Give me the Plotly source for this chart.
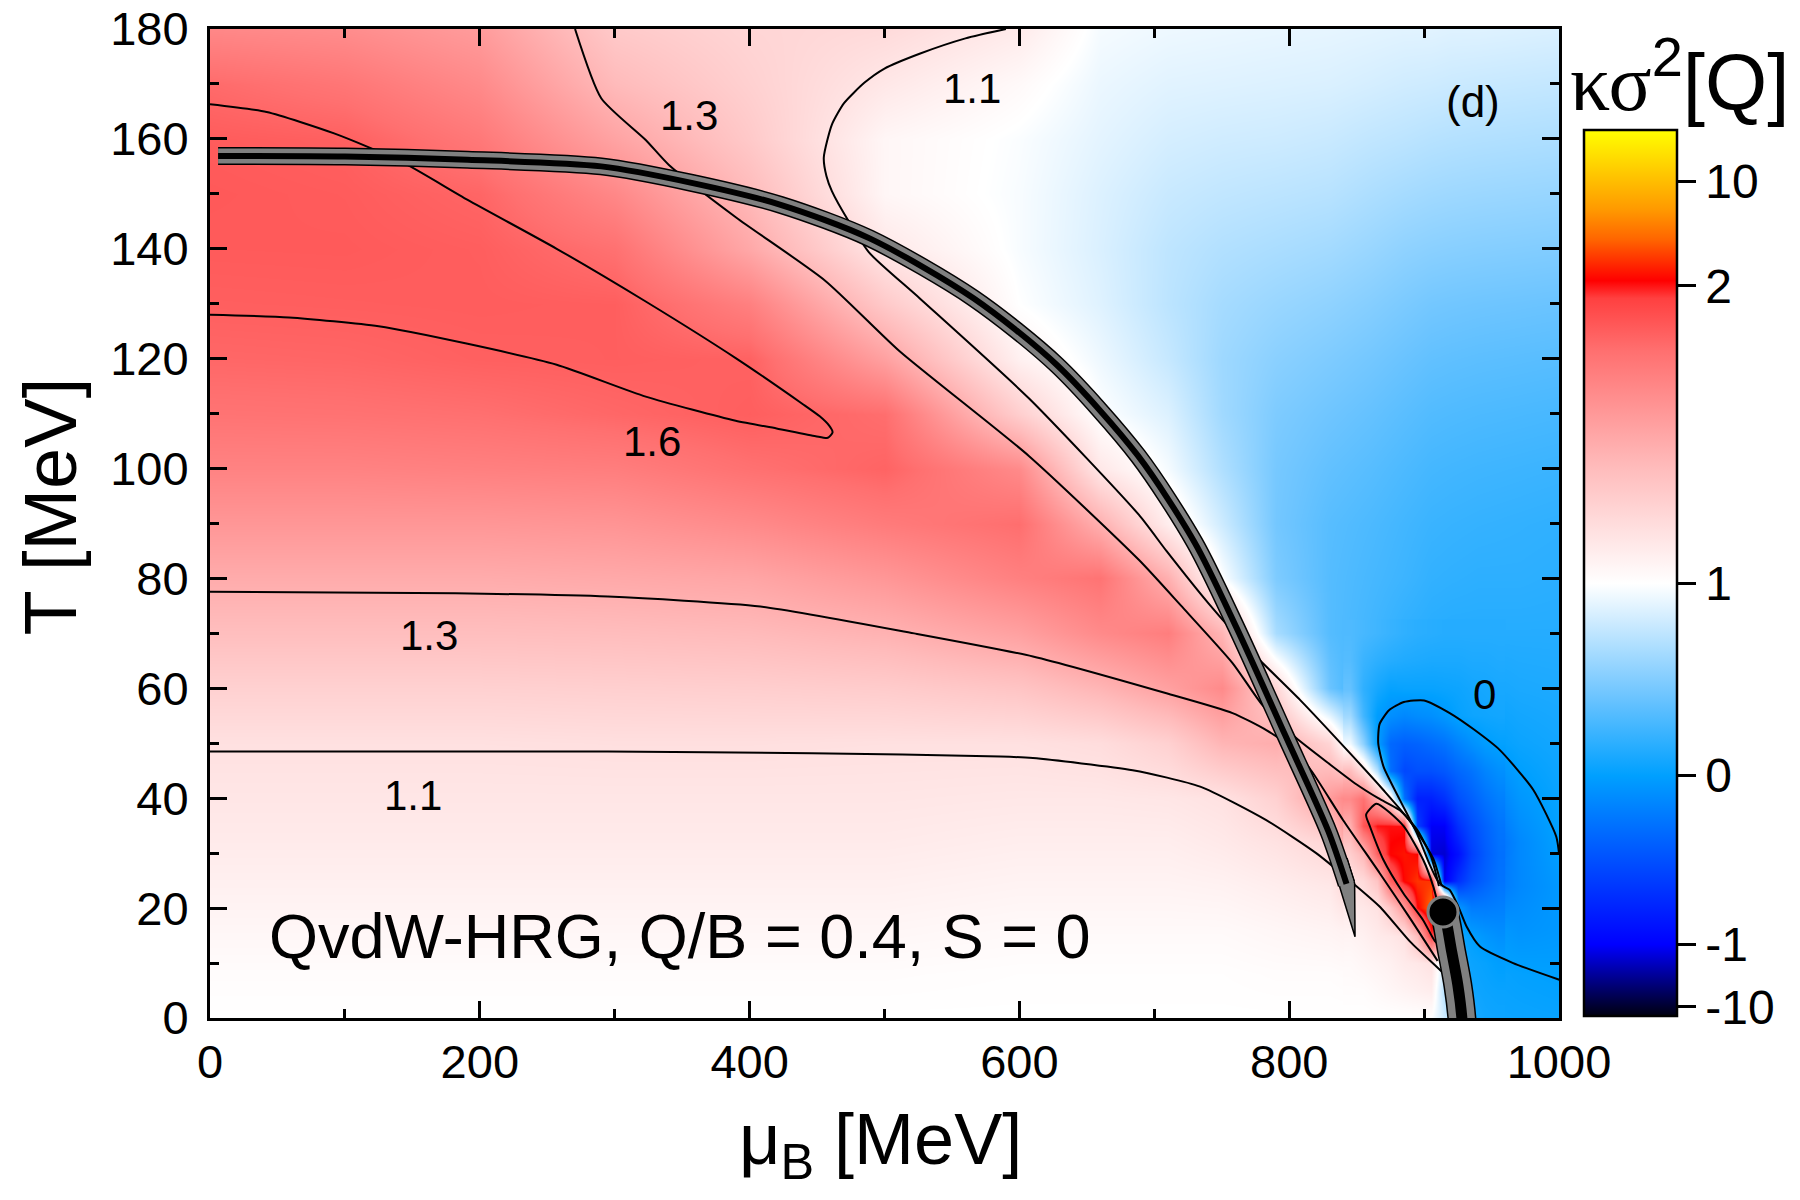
import numpy as np
import plotly.graph_objects as go

# ---------------- data ----------------
mu_grid = [0, 100, 200, 300, 400, 500, 600, 660, 710, 750, 790, 830, 860, 885, 905, 920, 940, 970, 1000]
T_grid = [0, 8, 16, 24, 32, 40, 50, 60, 70, 80, 90, 100, 110, 120, 130, 140, 150, 160, 170, 180]

# kappa*sigma^2[Q] estimated at each grid column (values from T=0 upward)
ks_mu0 = [1.00, 1.01, 1.03, 1.05, 1.07, 1.085, 1.105, 1.17, 1.245, 1.315, 1.40, 1.48, 1.54, 1.58, 1.61, 1.65, 1.665, 1.64, 1.57, 1.46]
ks_mu100 = [1.00, 1.01, 1.03, 1.05, 1.07, 1.085, 1.105, 1.17, 1.245, 1.315, 1.40, 1.48, 1.545, 1.585, 1.62, 1.655, 1.64, 1.60, 1.53, 1.44]
ks_mu200 = [1.00, 1.01, 1.03, 1.05, 1.07, 1.085, 1.105, 1.17, 1.245, 1.315, 1.40, 1.49, 1.555, 1.60, 1.63, 1.62, 1.585, 1.52, 1.45, 1.38]
ks_mu300 = [1.00, 1.01, 1.03, 1.05, 1.07, 1.085, 1.11, 1.175, 1.25, 1.325, 1.41, 1.50, 1.58, 1.615, 1.615, 1.55, 1.46, 1.35, 1.26, 1.20]
ks_mu400 = [1.00, 1.01, 1.03, 1.05, 1.07, 1.085, 1.11, 1.18, 1.26, 1.34, 1.45, 1.55, 1.615, 1.595, 1.49, 1.33, 1.26, 1.20, 1.17, 1.15]
ks_mu500 = [1.00, 1.01, 1.03, 1.05, 1.07, 1.085, 1.105, 1.19, 1.29, 1.40, 1.51, 1.59, 1.56, 1.36, 1.20, 1.08, 1.03, 1.03, 1.08, 1.13]
ks_mu600 = [1.00, 1.005, 1.02, 1.04, 1.06, 1.08, 1.105, 1.22, 1.36, 1.49, 1.56, 1.45, 1.18, 1.05, 1.00, 0.97, 0.97, 0.98, 1.02, 1.07]
ks_mu660 = [1.00, 1.005, 1.02, 1.04, 1.06, 1.08, 1.12, 1.28, 1.45, 1.54, 1.30, 1.08, 1.00, 0.93, 0.87, 0.85, 0.86, 0.89, 0.92, 0.96]
ks_mu710 = [1.00, 1.005, 1.02, 1.04, 1.06, 1.085, 1.17, 1.36, 1.50, 1.30, 1.06, 0.96, 0.86, 0.77, 0.73, 0.74, 0.78, 0.83, 0.88, 0.93]
ks_mu750 = [1.00, 1.005, 1.02, 1.045, 1.075, 1.10, 1.28, 1.45, 1.28, 1.00, 0.80, 0.68, 0.62, 0.61, 0.64, 0.69, 0.75, 0.81, 0.87, 0.92]
ks_mu790 = [1.00, 1.01, 1.03, 1.06, 1.10, 1.17, 1.31, 1.15, 0.65, 0.48, 0.44, 0.45, 0.48, 0.53, 0.59, 0.66, 0.73, 0.80, 0.86, 0.91]
ks_mu830 = [1.00, 1.01, 1.04, 1.08, 1.15, 1.38, 1.15, 0.40, 0.32, 0.32, 0.33, 0.37, 0.42, 0.48, 0.55, 0.63, 0.71, 0.78, 0.85, 0.90]
ks_mu860 = [1.00, 1.02, 1.06, 1.25, 1.90, 1.60, 0.35, 0.12, 0.25, 0.27, 0.29, 0.33, 0.38, 0.44, 0.51, 0.59, 0.67, 0.75, 0.83, 0.89]
ks_mu885 = [1.00, 1.05, 1.25, 2.00, 3.00, -0.10, -0.40, 0.05, 0.18, 0.23, 0.25, 0.29, 0.34, 0.40, 0.47, 0.55, 0.64, 0.73, 0.81, 0.88]
ks_mu905 = [1.00, 1.05, 1.80, 8.00, -3.00, -0.80, -0.35, 0.02, 0.15, 0.19, 0.22, 0.26, 0.31, 0.37, 0.44, 0.53, 0.62, 0.71, 0.80, 0.88]
ks_mu920 = [0.70, 0.60, 0.30, -0.30, -1.50, -0.60, -0.25, 0.03, 0.14, 0.18, 0.21, 0.25, 0.30, 0.36, 0.43, 0.52, 0.61, 0.70, 0.79, 0.87]
ks_mu940 = [0.05, 0.04, -0.01, -0.35, -0.45, -0.30, -0.03, 0.07, 0.14, 0.17, 0.20, 0.24, 0.29, 0.35, 0.42, 0.51, 0.60, 0.69, 0.78, 0.87]
ks_mu970 = [0.04, 0.01, -0.08, -0.15, -0.15, -0.06, 0.04, 0.10, 0.14, 0.17, 0.19, 0.23, 0.28, 0.34, 0.41, 0.50, 0.59, 0.68, 0.77, 0.86]
ks_mu1000 = [0.03, -0.005, -0.05, -0.05, 0.003, 0.03, 0.07, 0.11, 0.14, 0.16, 0.18, 0.22, 0.27, 0.33, 0.40, 0.49, 0.58, 0.67, 0.76, 0.85]

ks_columns = [ks_mu0, ks_mu100, ks_mu200, ks_mu300, ks_mu400, ks_mu500, ks_mu600, ks_mu660,
              ks_mu710, ks_mu750, ks_mu790, ks_mu830, ks_mu860, ks_mu885, ks_mu905, ks_mu920,
              ks_mu940, ks_mu970, ks_mu1000]

# finer reading around the critical point
cp_mu_grid = [845, 855, 865, 875, 885, 895, 905, 915, 925, 935, 945, 955]
cp_T_grid = [0, 5, 10, 15, 20, 25, 30, 35, 40, 45, 50, 55, 60, 65, 70]
cp_ks_845 = [1.00, 1.01, 1.02, 1.04, 1.07, 1.10, 1.18, 1.30, 1.45, 1.25, 0.95, 0.62, 0.38, 0.32, 0.30]
cp_ks_855 = [1.00, 1.01, 1.03, 1.05, 1.08, 1.13, 1.27, 1.70, 1.55, 1.10, 0.55, 0.25, 0.18, 0.22, 0.27]
cp_ks_865 = [1.00, 1.02, 1.04, 1.07, 1.10, 1.22, 1.60, 2.05, 1.30, 0.70, 0.00, -0.02, 0.08, 0.17, 0.24]
cp_ks_875 = [1.00, 1.03, 1.05, 1.08, 1.20, 1.60, 2.50, 2.10, 1.10, -0.30, -0.35, -0.10, 0.02, 0.14, 0.21]
cp_ks_885 = [1.00, 1.04, 1.07, 1.10, 1.40, 2.60, 3.00, 2.00, -0.30, -0.55, -0.40, -0.15, 0.03, 0.12, 0.18]
cp_ks_895 = [1.00, 1.05, 1.08, 1.25, 2.20, 4.00, 2.50, -0.60, -0.80, -0.50, -0.38, -0.12, 0.03, 0.11, 0.16]
cp_ks_905 = [1.00, 1.06, 1.10, 1.90, 6.00, 4.00, -2.50, -1.30, -0.80, -0.50, -0.33, -0.10, 0.03, 0.10, 0.15]
cp_ks_915 = [0.80, 0.70, 0.80, 1.50, 10.0, -2.00, -3.00, -1.20, -0.70, -0.45, -0.28, -0.05, 0.04, 0.10, 0.14]
cp_ks_925 = [0.50, 0.30, 0.10, 0.05, -0.05, -0.70, -0.90, -0.70, -0.50, -0.35, -0.18, 0.02, 0.05, 0.10, 0.14]
cp_ks_935 = [0.10, 0.06, 0.04, 0.00, -0.22, -0.50, -0.60, -0.52, -0.40, -0.28, -0.10, 0.05, 0.07, 0.11, 0.14]
cp_ks_945 = [0.06, 0.04, 0.02, -0.06, -0.22, -0.38, -0.42, -0.38, -0.28, -0.17, -0.02, 0.06, 0.08, 0.11, 0.14]
cp_ks_955 = [0.05, 0.03, -0.01, -0.10, -0.20, -0.28, -0.30, -0.27, -0.20, -0.10, 0.01, 0.07, 0.09, 0.12, 0.14]
cp_columns = [cp_ks_845, cp_ks_855, cp_ks_865, cp_ks_875, cp_ks_885, cp_ks_895, cp_ks_905,
              cp_ks_915, cp_ks_925, cp_ks_935, cp_ks_945, cp_ks_955]

# non-linear colour axis: value -> position on the colour bar
scale_values = [-12, -10, -1, 0, 1, 1.1, 1.3, 1.6, 2, 10, 13]
scale_positions = [0.0, 0.0103, 0.0806, 0.2714, 0.4881, 0.545, 0.64, 0.77, 0.8243, 0.9423, 1.0]
cbar_tick_values = [-10, -1, 0, 1, 2, 10]
cbar_tick_text = ["-10", "-1", "0", "1", "2", "10"]

# contour lines (mu_B, T)
c16_mu = [0, 42, 92, 141.6, 191, 257, 323, 389.7, 439, 452, 459, 461.5, 458, 449, 420, 389.7, 323, 257, 191, 125, 58.6, 0]
c16_T = [166.3, 164.9, 161, 155.9, 148.9, 140, 130.4, 120.1, 111.8, 109.5, 107.8, 106.6, 105.6, 105.9, 107.3, 108.7, 113.1, 118.9, 122.7, 125.9, 127.5, 128]

c13u_mu = [270.6, 290, 323, 340, 390, 456, 511, 607, 688.5, 720, 758, 780, 805, 830, 850, 866, 882, 895, 905, 911]
c13u_T = [180, 167.4, 159.8, 155.3, 145.7, 134.2, 121.4, 102.3, 83.4, 75, 64.6, 57, 51, 46.2, 42.5, 40, 37.8, 34.2, 29.5, 24]

c11u_mu = [590, 560, 526, 500, 485, 470, 461, 455, 457, 461, 473, 489, 526, 607, 688.5, 709, 740, 773.5, 808, 845, 869.8, 889.6, 906.8, 913]
c11u_T = [180, 178.3, 175.5, 172.8, 170.2, 166.5, 162.6, 156.6, 153.2, 150.5, 145.2, 139.2, 131, 112.8, 91.6, 85, 75.5, 66.3, 57.9, 48.2, 41.5, 35.8, 29, 24]

c13l_mu = [0, 182, 295, 408, 522, 610, 709, 758, 783, 800, 815, 840, 867, 890, 910]
c13l_T = [77.6, 77.3, 76.7, 74.9, 70, 65.8, 59.1, 55.5, 52.4, 49.5, 45.5, 36, 26.4, 18, 10.4]

c11l_mu = [0, 295, 446, 586, 610, 684, 734, 783, 820, 845, 867, 890, 914, 920]
c11l_T = [48.5, 48.5, 48.2, 47.6, 47.3, 45.1, 42.1, 36, 30, 25, 20.3, 13.8, 8.2, 6.5]

c2_mu = [912, 906.7, 899.3, 884.5, 864.7, 857, 859.8, 869.8, 884.6, 899.3, 908, 913]
c2_T = [19, 24, 28.8, 35, 39, 37, 34.9, 28.8, 22.7, 17.8, 14, 13]

c0_mu = [1000, 998, 981, 956, 937, 919, 900, 885, 874, 867, 866, 870, 882, 894.5, 904, 910, 914, 919, 925, 931.6, 941.4, 966, 1001]
c0_T = [30, 33, 41.5, 48.8, 52.5, 55.5, 57.8, 57.5, 56, 53.5, 50, 45.7, 39.7, 33.7, 28, 25, 24, 23.3, 20.5, 16.6, 13, 10, 6.9]

# phase-transition band
band_mu = [6, 100, 191, 290, 357, 423, 489, 566, 628, 688, 730, 761, 797, 829, 842.5]
band_T = [156.9, 156.8, 156.2, 155, 152, 148, 141.9, 131, 118.8, 102.3, 86.5, 71, 51.5, 34, 24.4]
spike_mu = [831, 848.8, 848.5, 843, 831]
spike_T = [29, 14.8, 24.5, 29, 29]
low_band_mu = [914, 915, 920.5, 925, 928, 928.6]
low_band_T = [19.3, 19, 12, 6, 0, -3]
cp_mu = [914]
cp_T = [19.3]

# labels
label_text = ["1.3", "1.1", "1.6", "1.3", "1.1", "0"]
label_mu = [355, 565, 328, 162.6, 150.6, 944.7]
label_T = [164.3, 169.1, 105, 69.7, 40.5, 58.9]

FONT = "Liberation Sans"

z_pos = np.interp(np.array(ks_columns).T, scale_values, scale_positions)
z_cp = np.interp(np.array(cp_columns).T, scale_values, scale_positions)
cbar_tick_pos = list(np.interp(cbar_tick_values, scale_values, scale_positions))

colorscale = [
    [0.0, "#000010"], [0.0806, "#0000ff"], [0.2714, "#00a0ff"], [0.36, "#6cc4ff"],
    [0.4881, "#ffffff"], [0.62, "#ffbbbb"], [0.75, "#ff7070"], [0.81, "#ff4040"],
    [0.83, "#ff0000"], [0.877, "#ff6600"], [0.91, "#ff9900"], [1.0, "#ffff00"],
]

fig = go.Figure()
fig.add_trace(go.Heatmap(
    x=mu_grid, y=T_grid, z=z_pos, zmin=0, zmax=1, zsmooth="best",
    colorscale=colorscale, hoverinfo="skip",
    colorbar=dict(
        x=1.0185, xanchor="left", xpad=0, y=0.002, yanchor="bottom", ypad=0,
        len=886, lenmode="pixels", thickness=93, thicknessmode="pixels",
        outlinewidth=2.5, outlinecolor="black",
        tickvals=cbar_tick_pos, ticktext=cbar_tick_text,
        ticks="outside", ticklen=18, tickwidth=2.5, tickcolor="black",
        tickfont=dict(size=48, family=FONT, color="black"),
    ),
))
fig.add_trace(go.Heatmap(
    x=cp_mu_grid, y=cp_T_grid, z=z_cp, zmin=0, zmax=1, zsmooth="best",
    colorscale=colorscale, showscale=False, hoverinfo="skip",
))

line_style = dict(color="black", width=2, shape="spline", smoothing=0.6)
for xs, ys in [(c16_mu, c16_T), (c13u_mu, c13u_T), (c11u_mu, c11u_T), (c13l_mu, c13l_T),
               (c11l_mu, c11l_T), (c2_mu, c2_T), (c0_mu, c0_T)]:
    fig.add_trace(go.Scatter(x=xs, y=ys, mode="lines", line=line_style, hoverinfo="skip", showlegend=False))

# band: black edge, gray body, black centre
fig.add_trace(go.Scatter(x=band_mu, y=band_T, mode="lines", line=dict(color="black", width=18, shape="spline", smoothing=0.8), showlegend=False, hoverinfo="skip"))
fig.add_trace(go.Scatter(x=spike_mu, y=spike_T, mode="lines", fill="toself", fillcolor="#808080", line=dict(color="black", width=1.5), showlegend=False, hoverinfo="skip"))
fig.add_trace(go.Scatter(x=band_mu, y=band_T, mode="lines", line=dict(color="#808080", width=15, shape="spline", smoothing=0.8), showlegend=False, hoverinfo="skip"))
fig.add_trace(go.Scatter(x=band_mu, y=band_T, mode="lines", line=dict(color="black", width=6, shape="spline", smoothing=0.8), showlegend=False, hoverinfo="skip"))

fig.add_trace(go.Scatter(x=low_band_mu, y=low_band_T, mode="lines", line=dict(color="black", width=29, shape="spline"), showlegend=False, hoverinfo="skip"))
fig.add_trace(go.Scatter(x=low_band_mu, y=low_band_T, mode="lines", line=dict(color="#808080", width=26, shape="spline"), showlegend=False, hoverinfo="skip"))
fig.add_trace(go.Scatter(x=low_band_mu, y=low_band_T, mode="lines", line=dict(color="black", width=11, shape="spline"), showlegend=False, hoverinfo="skip"))
fig.add_trace(go.Scatter(x=cp_mu, y=cp_T, mode="markers", marker=dict(color="black", size=30, line=dict(color="#808080", width=3)), showlegend=False, hoverinfo="skip"))

annotations = []
for t, xm, yt in zip(label_text, label_mu, label_T):
    annotations.append(dict(x=xm, y=yt, xref="x", yref="y", text=t, showarrow=False,
                            font=dict(size=42, family=FONT, color="black")))
annotations.append(dict(x=936, y=166.8, xref="x", yref="y", text="(d)", showarrow=False,
                        font=dict(size=44, family=FONT, color="black")))
annotations.append(dict(x=42, y=15, xref="x", yref="y", text="QvdW-HRG, Q/B = 0.4, S = 0",
                        showarrow=False, xanchor="left", yanchor="middle",
                        font=dict(size=63, family=FONT, color="black")))
annotations.append(dict(x=1.0897, y=0.952, xref="paper", yref="paper",
                        text='<span style="font-family:Liberation Serif">κσ</span><sup>2</sup>[Q]',
                        showarrow=False, xanchor="center", yanchor="middle",
                        font=dict(size=80, family=FONT, color="black")))
annotations.append(dict(x=-0.118, y=0.517, xref="paper", yref="paper", text="T [MeV]",
                        textangle=-90, showarrow=False, xanchor="center", yanchor="middle",
                        font=dict(size=74, family=FONT, color="black")))
annotations.append(dict(x=0.4967, y=-0.128, xref="paper", yref="paper", text="μ<sub>B</sub> [MeV]",
                        showarrow=False, xanchor="center", yanchor="middle",
                        font=dict(size=72, family=FONT, color="black")))

axis_common = dict(showgrid=False, zeroline=False, showline=True, linecolor="black", linewidth=3,
                   mirror="allticks", ticks="inside", ticklen=17, tickwidth=2.5, tickcolor="black",
                   automargin=False, tickfont=dict(size=47, family=FONT, color="black"))
fig.update_layout(
    width=1800, height=1200, margin=dict(l=210, r=241, t=29, b=182),
    paper_bgcolor="white", plot_bgcolor="white", showlegend=False,
    annotations=annotations,
    xaxis=dict(range=[0, 1000], tickvals=[0, 200, 400, 600, 800, 1000], ticklabelstandoff=1,
               minor=dict(dtick=100, tick0=0, ticks="inside", ticklen=9, tickwidth=2.5, tickcolor="black"),
               **axis_common),
    yaxis=dict(range=[0, 180], tickvals=[0, 20, 40, 60, 80, 100, 120, 140, 160, 180], ticklabelstandoff=9,
               minor=dict(dtick=10, tick0=0, ticks="inside", ticklen=9, tickwidth=2.5, tickcolor="black"),
               **axis_common),
)
fig.write_html("out.html")
